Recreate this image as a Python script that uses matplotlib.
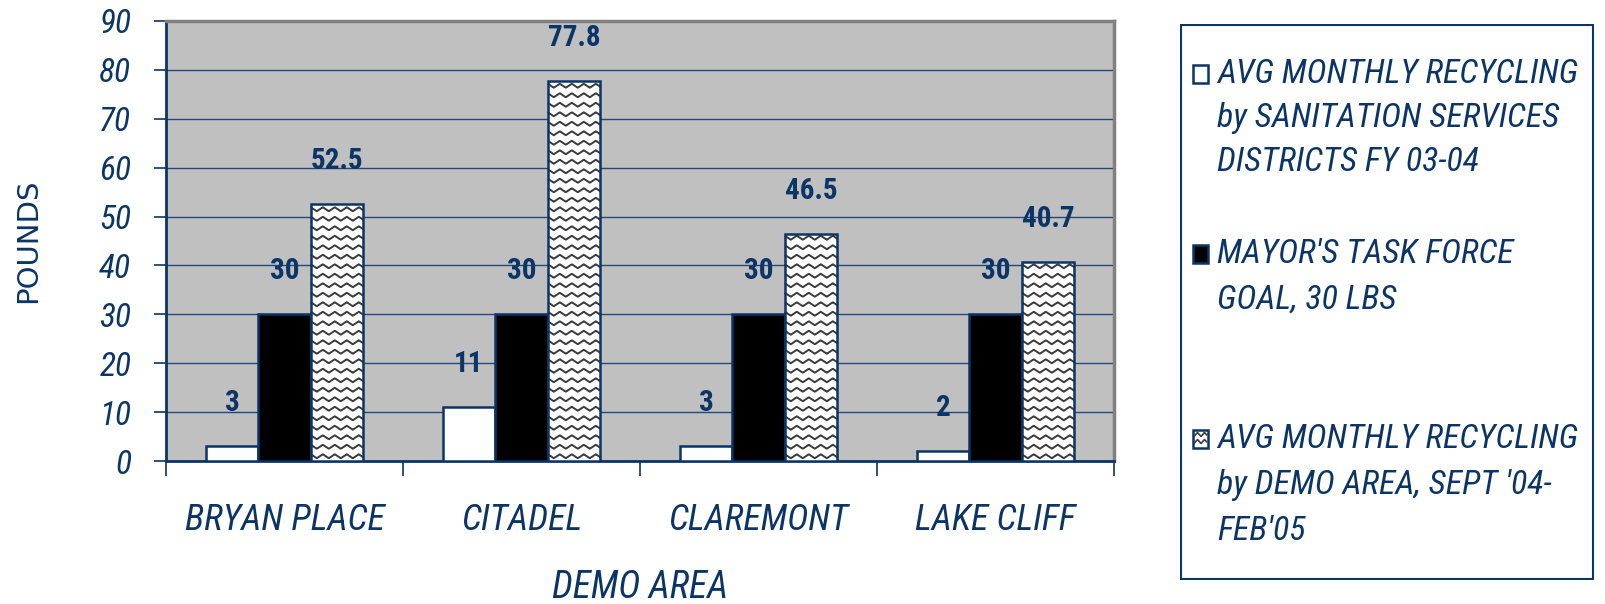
import numpy as np
import matplotlib
matplotlib.use("Agg")
import matplotlib.pyplot as plt
from matplotlib import font_manager
from matplotlib.collections import LineCollection
from matplotlib.patches import Rectangle

# ---- data ----
areas = ["BRYAN PLACE", "CITADEL", "CLAREMONT", "LAKE CLIFF"]
district_avg = [3, 11, 3, 2]
task_force_goal = [30, 30, 30, 30]
demo_avg = [52.5, 77.8, 46.5, 40.7]
series_labels = [
    ["AVG MONTHLY RECYCLING", "by SANITATION SERVICES", "DISTRICTS FY 03-04"],
    ["MAYOR'S TASK FORCE", "GOAL, 30 LBS"],
    ["AVG MONTHLY RECYCLING", "by DEMO AREA, SEPT '04-", "FEB'05"],
]
y_ticks = list(range(0, 100, 10))

# ---- style ----
NAVY = "#0b3467"
GRID = "#23497a"
PLOT_BG = "#c0c0c0"
WAVE = "#3a3a3a"

installed = {f.name for f in font_manager.fontManager.ttflist}
COND = next((f for f in ["Liberation Sans Narrow", "Roboto Condensed",
                         "DejaVu Sans Condensed", "Liberation Sans"]
             if f in installed), "DejaVu Sans")
FAM = [COND, "DejaVu Sans"]

W, H = 1606, 604
fig = plt.figure(figsize=(W / 100, H / 100), dpi=100)


def px_rect(left, top, right, bottom):
    return [left / W, 1 - bottom / H, (right - left) / W, (bottom - top) / H]


def ftext(x, y, s, **kw):
    return fig.text(x / W, 1 - y / H, s, **kw)


def wave_segments(x0, x1, y0, y1, period, gap, amp, sx=1.0, sy=1.0):
    """Zigzag rows filling the box [x0,x1]x[y0,y1]; sizes given in pixels,
    sx/sy convert pixels to the coordinate units of the box."""
    xs = np.linspace(x0, x1, max(int((x1 - x0) / (sx * 0.5)), 4))
    phase = ((xs - x0) / (period * sx)) % 1.0
    tri = 2 * np.abs(2 * phase - 1) - 1          # -1..1 triangle wave
    segs = []
    yr = y0 + (gap / 2) * sy
    while yr + amp * sy <= y1 + 1e-9:
        segs.append(np.column_stack([xs, yr + tri * amp * sy]))
        yr += gap * sy
    return segs


ax = fig.add_axes(px_rect(166, 21, 1114, 461))
ax.set_facecolor(PLOT_BG)
ax.set_xlim(-0.5, len(areas) - 0.5)
ax.set_ylim(0, 90)

x = np.arange(len(areas))
bw = 0.222
offsets = [-bw, 0, bw]

ax.bar(x + offsets[0], district_avg, bw, color="white",
       edgecolor=NAVY, linewidth=1.8, zorder=3)
ax.bar(x + offsets[1], task_force_goal, bw, color="black",
       edgecolor=NAVY, linewidth=1.8, zorder=3)
hatched = ax.bar(x + offsets[2], demo_avg, bw, color="white",
                 edgecolor="none", linewidth=0, zorder=3)

# wave fill for the demo-area bars
ppx = len(areas) / (1114 - 166)       # x data units per pixel
ppy = 90 / (461 - 21)                 # y data units per pixel
for rect in hatched:
    x0, w_, h_ = rect.get_x(), rect.get_width(), rect.get_height()
    segs = wave_segments(x0, x0 + w_, 0, h_, period=12, gap=9.5, amp=2.0,
                         sx=ppx, sy=ppy)
    ax.add_collection(LineCollection(segs, colors=WAVE, linewidths=1.4,
                                     zorder=4))
ax.bar(x + offsets[2], demo_avg, bw, fill=False,
       edgecolor=NAVY, linewidth=1.8, zorder=5)

# value labels
for off, vals in zip(offsets, [district_avg, task_force_goal, demo_avg]):
    for xi, v in zip(x, vals):
        ax.annotate(f"{v:g}", (xi + off, v), xytext=(0, 31),
                    textcoords="offset points", ha="center", va="center",
                    fontsize=21, fontweight="bold", color=NAVY,
                    family=FAM, zorder=6)

# grid, spines, ticks
ax.set_yticks(y_ticks)
ax.yaxis.grid(True, color=GRID, linewidth=1.0, zorder=1)
ax.set_axisbelow(True)
ax.set_yticklabels([str(t) for t in y_ticks], fontsize=24, style="italic",
                   color=NAVY, family=FAM)
ax.tick_params(axis="y", length=9, width=1.2, color=NAVY, pad=16)
ax.set_xticks(np.arange(len(areas) + 1) - 0.5)
ax.set_xticklabels([])
ax.tick_params(axis="x", length=11, width=1.2, color=NAVY)
for side in ["left", "bottom"]:
    ax.spines[side].set_color(NAVY)
    ax.spines[side].set_linewidth(2.0)
for side in ["top", "right"]:
    ax.spines[side].set_color("#808080")
    ax.spines[side].set_linewidth(2.5)

# category labels and axis titles
for xi, name in zip(x, areas):
    px_x = 166 + (xi + 0.5) * (1114 - 166) / len(areas)
    ftext(px_x, 520, name, ha="center", va="center", fontsize=26,
          style="italic", color=NAVY, family=FAM)
ftext(640, 587, "DEMO AREA", ha="center", va="center", fontsize=27,
      style="italic", color=NAVY, family=FAM)
ftext(28, 241, "POUNDS", ha="center", va="center", fontsize=21,
      rotation=90, color=NAVY, family="DejaVu Sans")

# legend panel (pixel coordinates)
lax = fig.add_axes(px_rect(1180, 24, 1594, 580))
lax.set_xlim(1180, 1594)
lax.set_ylim(580, 24)
lax.axis("off")
lax.add_patch(Rectangle((1181, 25), 412, 554, fill=False,
                        edgecolor=NAVY, linewidth=1.5))
entry_y = [(74, 44), (254, 46), (439, 46)]
fills = ["white", "black", "wave"]
for (y0, step), lines, fc in zip(entry_y, series_labels, fills):
    sq = Rectangle((1193, y0 - 9), 15, 18,
                   facecolor="white" if fc == "wave" else fc,
                   edgecolor=NAVY, linewidth=1.8, zorder=3)
    lax.add_patch(sq)
    if fc == "wave":
        segs = wave_segments(1194, 1207, y0 - 8, y0 + 8, period=7,
                             gap=7, amp=2.0)
        lax.add_collection(LineCollection(segs, colors=WAVE,
                                          linewidths=1.2, zorder=4))
    for i, line in enumerate(lines):
        lax.text(1217, y0 + i * step, line, ha="left", va="center",
                 fontsize=24.5, style="italic", color=NAVY, family=FAM)

fig.savefig("out.png", dpi=100, facecolor="white")
